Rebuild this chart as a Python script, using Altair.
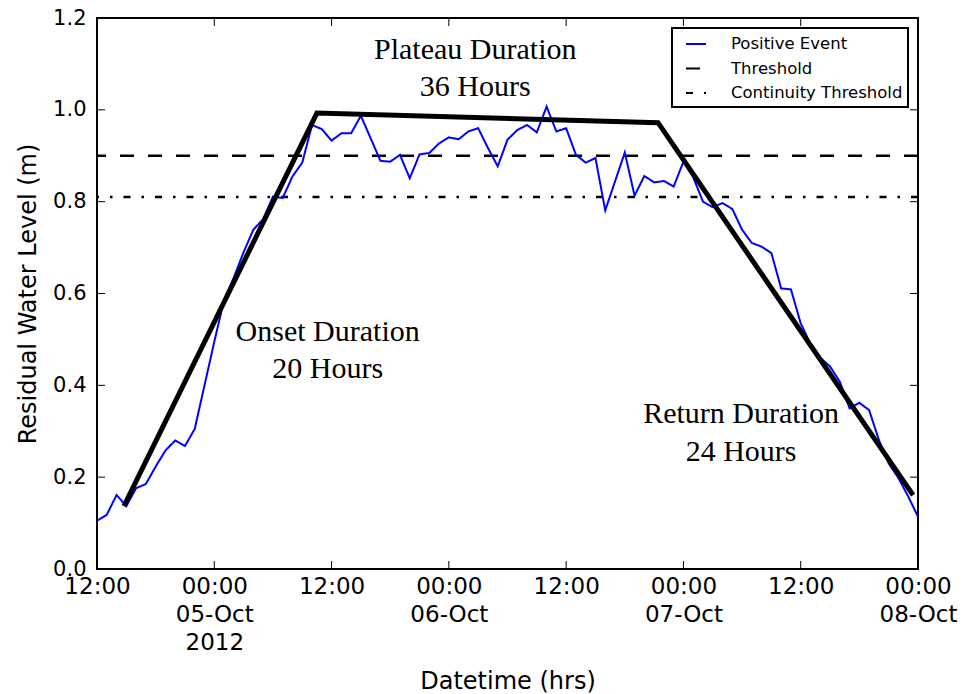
import json
import altair as alt
import pandas as pd

# Hourly residual water level, hours counted from 2012-10-04 12:00
hours = list(range(85))
level = [
    0.105, 0.118, 0.161, 0.137, 0.176, 0.185, 0.223, 0.258, 0.280, 0.268,
    0.305, 0.400, 0.495, 0.586, 0.635, 0.690, 0.739, 0.762, 0.811, 0.808,
    0.855, 0.885, 0.967, 0.958, 0.933, 0.949, 0.949, 0.987, 0.938, 0.889,
    0.887, 0.902, 0.851, 0.903, 0.906, 0.927, 0.940, 0.936, 0.953, 0.960,
    0.917, 0.877, 0.935, 0.956, 0.967, 0.951, 1.007, 0.953, 0.960, 0.902,
    0.885, 0.895, 0.781, 0.844, 0.907, 0.813, 0.856, 0.842, 0.845, 0.833,
    0.887, 0.853, 0.800, 0.788, 0.797, 0.784, 0.739, 0.710, 0.702, 0.688,
    0.611, 0.609, 0.535, 0.490, 0.460, 0.441, 0.408, 0.350, 0.362, 0.346,
    0.281, 0.230, 0.198, 0.158, 0.114,
]

# Piecewise event shape: onset, plateau, return
trend_hours = [2.75, 22.5, 57.4, 83.5]
trend_level = [0.137, 0.993, 0.972, 0.161]

threshold_names = ["Threshold", "Continuity Threshold"]
threshold_levels = [0.9, 0.81]

series_names = ["Positive Event", "Threshold", "Continuity Threshold"]
series_colors = ["#0000ff", "#000000", "#000000"]
series_dashes = [[1, 0], [14, 14], [7, 11, 2.5, 11]]

x_tick_hours = [0, 12, 24, 36, 48, 60, 72, 84]
x_tick_labels = [
    ["12:00"], ["00:00", "05-Oct", "2012"], ["12:00"], ["00:00", "06-Oct"],
    ["12:00"], ["00:00", "07-Oct"], ["12:00"], ["00:00", "08-Oct"],
]
y_ticks = [0.0, 0.2, 0.4, 0.6, 0.8, 1.0, 1.2]

annot_text = ["Plateau Duration", "36 Hours", "Onset Duration", "20 Hours",
              "Return Duration", "24 Hours"]
annot_hour = [38.7, 38.7, 23.6, 23.6, 65.9, 65.9]
annot_level = [1.131, 1.050, 0.516, 0.436, 0.338, 0.255]

W, H = 821, 551
FONT = "DejaVu Sans"

event_df = pd.DataFrame({"hour": hours, "level": level,
                         "series": series_names[0]})
trend_df = pd.DataFrame({"hour": trend_hours, "level": trend_level})
thr_df = pd.DataFrame({"level": threshold_levels, "series": threshold_names})
annot_df = pd.DataFrame({"hour": annot_hour, "level": annot_level,
                         "text": annot_text})
ytick_df = pd.DataFrame({"level": y_ticks})
xtick_df = pd.DataFrame({"hour": x_tick_hours})

x_scale = alt.Scale(domain=[0, 84], nice=False, zero=False)
y_scale = alt.Scale(domain=[0, 1.2], nice=False)

label_expr = json.dumps(x_tick_labels).replace('"', "'") + "[round(datum.value / 12)]"

x_axis = alt.Axis(values=x_tick_hours, labelExpr=label_expr, ticks=False,
                  domain=False, grid=False, labelFont=FONT, labelFontSize=23,
                  labelPadding=6, labelLineHeight=28, labelColor="black",
                  title="Datetime (hrs)", titleFont=FONT, titleFontSize=24,
                  titleFontWeight="normal", titleColor="black", titlePadding=15,
                  labelFlush=False, labelOverlap=False)
y_axis = alt.Axis(values=y_ticks, format=".1f", ticks=False, domain=False,
                  grid=False, labelFont=FONT, labelFontSize=21, labelPadding=11,
                  labelColor="black", title="Residual Water Level (m)",
                  titleFont=FONT, titleFontSize=24, titleFontWeight="normal",
                  titleColor="black", titlePadding=12, labelFlush=False)

X = alt.X("hour:Q", scale=x_scale, axis=x_axis)
Y = alt.Y("level:Q", scale=y_scale, axis=y_axis)

legend = alt.Legend(title=None, orient="none", legendX=575, legendY=10)
color = alt.Color("series:N", scale=alt.Scale(domain=series_names, range=series_colors),
                  legend=legend)
dash = alt.StrokeDash("series:N", scale=alt.Scale(domain=series_names, range=series_dashes),
                      legend=legend)

thresholds = alt.Chart(thr_df).mark_rule(strokeWidth=2.5).encode(
    y=Y, color=color, strokeDash=dash,
)

event = alt.Chart(event_df).mark_line(strokeWidth=2).encode(
    x=X, y=Y, color=color, strokeDash=dash,
)

trend = alt.Chart(trend_df).mark_line(color="black", strokeWidth=5).encode(
    x=X, y=Y,
)

labels = alt.Chart(annot_df).mark_text(
    font="Liberation Serif", fontSize=30, color="black",
    align="center", baseline="middle",
).encode(x=X, y=Y, text="text:N")

# Inward tick marks on all four sides of the frame
tick_style = dict(color="black", strokeWidth=1)
left_ticks = alt.Chart(ytick_df).mark_rule(**tick_style).encode(
    y=Y, x=alt.value(0), x2=alt.value(8))
right_ticks = alt.Chart(ytick_df).mark_rule(**tick_style).encode(
    y=Y, x=alt.value(W - 8), x2=alt.value(W))
bottom_ticks = alt.Chart(xtick_df).mark_rule(**tick_style).encode(
    x=X, y=alt.value(H - 8), y2=alt.value(H))
top_ticks = alt.Chart(xtick_df).mark_rule(**tick_style).encode(
    x=X, y=alt.value(0), y2=alt.value(8))

chart = alt.layer(
    thresholds, event, trend, labels,
    left_ticks, right_ticks, bottom_ticks, top_ticks,
).properties(
    width=W, height=H,
    autosize=alt.AutoSizeParams(type="none"),
    padding={"left": 97, "top": 18, "right": 46, "bottom": 125},
).configure(
    background="white",
).configure_view(
    stroke="black", strokeWidth=2,
).configure_legend(
    symbolType="stroke", symbolSize=400, symbolStrokeWidth=2, symbolOffset=8,
    labelFont=FONT, labelFontSize=16.5, labelColor="black", labelOffset=24,
    labelLimit=400, padding=5, rowPadding=4.5, strokeColor="black",
    strokeWidth=2, fillColor="white", cornerRadius=0,
)

chart.save("out.html", embed_options={"renderer": "svg", "actions": False})
